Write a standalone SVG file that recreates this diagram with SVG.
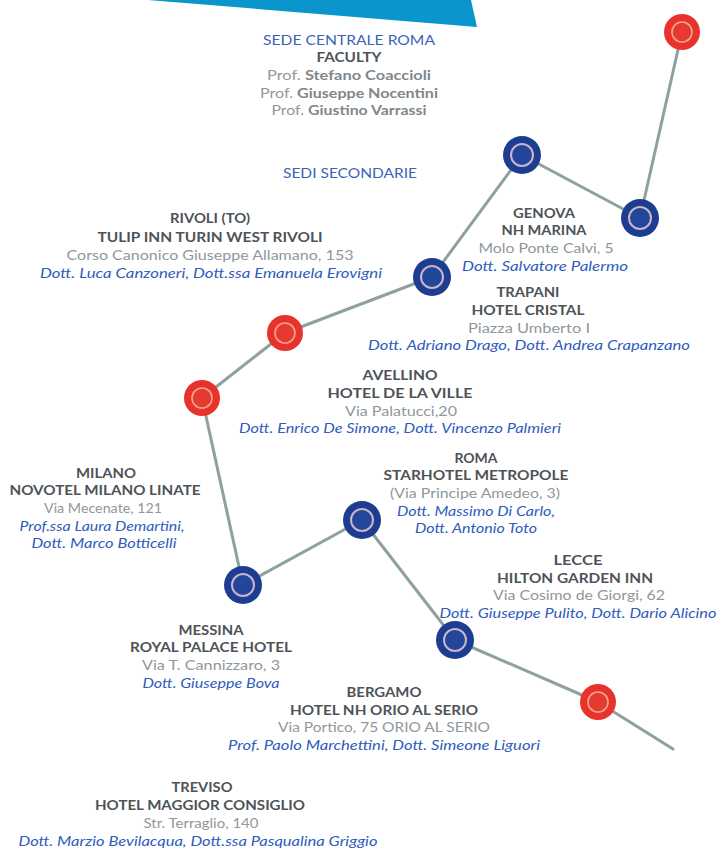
<svg xmlns="http://www.w3.org/2000/svg" width="718" height="850" viewBox="0 0 718 850">
<style>
text{font-family:"Lato","Open Sans","Liberation Sans",sans-serif;text-anchor:middle}
.h{font-weight:bold;font-size:13.5px;fill:#4d5358}
.a{font-size:14px;fill:#8f979b}
.n{font-size:14px;font-style:italic;fill:#2f5cbd}
.t{font-size:14px;fill:#3a63b8}
.p{font-size:14px;fill:#8f979b}
.pb{font-weight:bold;fill:#80878c}
.bo{fill:#1d3d90}
.bi{fill:#22469a;stroke:#c9b4cb;stroke-width:2}
.ro{fill:#e8332c}
.ri{fill:#e63a30;stroke:#f3a58e;stroke-width:1.6}
.link{fill:none;stroke:#8ea19f;stroke-width:3;stroke-linejoin:round;stroke-linecap:round}
</style>
<polygon points="148,0 471,0 477,27" fill="#0a96cc"/>
<g id="connectors">
<polyline class="link" points="682,32 640,218 522,155 432,277 285,333 202,398 243,585 362,520 455,640 598,702 673,749"/>
</g>
<g id="node-r1"><circle class="ro" cx="682" cy="32" r="18"/><circle class="ri" cx="682" cy="32" r="10"/></g>
<g id="node-b1"><circle class="bo" cx="640" cy="218" r="19"/><circle class="bi" cx="640" cy="218" r="11"/></g>
<g id="node-b2"><circle class="bo" cx="522" cy="155" r="19"/><circle class="bi" cx="522" cy="155" r="11"/></g>
<g id="node-b3"><circle class="bo" cx="432" cy="277" r="19"/><circle class="bi" cx="432" cy="277" r="11"/></g>
<g id="node-r2"><circle class="ro" cx="285" cy="333" r="18"/><circle class="ri" cx="285" cy="333" r="10"/></g>
<g id="node-r3"><circle class="ro" cx="202" cy="398" r="18"/><circle class="ri" cx="202" cy="398" r="10"/></g>
<g id="node-b4"><circle class="bo" cx="243" cy="585" r="19"/><circle class="bi" cx="243" cy="585" r="11"/></g>
<g id="node-b5"><circle class="bo" cx="362" cy="520" r="19"/><circle class="bi" cx="362" cy="520" r="11"/></g>
<g id="node-b6"><circle class="bo" cx="455" cy="640" r="19"/><circle class="bi" cx="455" cy="640" r="11"/></g>
<g id="node-r4"><circle class="ro" cx="598" cy="702" r="18"/><circle class="ri" cx="598" cy="702" r="10"/></g>

<g id="sede-centrale">
<text class="t" x="349" y="45" textLength="172" lengthAdjust="spacingAndGlyphs">SEDE CENTRALE ROMA</text>
<text class="h" x="349" y="62" textLength="65" lengthAdjust="spacingAndGlyphs">FACULTY</text>
<text class="p" x="349" y="80" textLength="164" lengthAdjust="spacingAndGlyphs">Prof. <tspan class="pb">Stefano Coaccioli</tspan></text>
<text class="p" x="349" y="98" textLength="178" lengthAdjust="spacingAndGlyphs">Prof. <tspan class="pb">Giuseppe Nocentini</tspan></text>
<text class="p" x="349" y="115" textLength="155" lengthAdjust="spacingAndGlyphs">Prof. <tspan class="pb">Giustino Varrassi</tspan></text>
</g>
<g id="sedi-secondarie">
<text class="t" x="350" y="178" textLength="134" lengthAdjust="spacingAndGlyphs">SEDI SECONDARIE</text>
</g>
<g id="rivoli">
<text class="h" x="210" y="223" textLength="80" lengthAdjust="spacingAndGlyphs">RIVOLI (TO)</text>
<text class="h" x="210" y="242" textLength="225" lengthAdjust="spacingAndGlyphs">TULIP INN TURIN WEST RIVOLI</text>
<text class="a" x="210" y="260" textLength="287" lengthAdjust="spacingAndGlyphs">Corso Canonico Giuseppe Allamano, 153</text>
<text class="n" x="211" y="278" textLength="342" lengthAdjust="spacingAndGlyphs">Dott. Luca Canzoneri, Dott.ssa Emanuela Erovigni</text>
</g>
<g id="genova">
<text class="h" x="544" y="218" textLength="62" lengthAdjust="spacingAndGlyphs">GENOVA</text>
<text class="h" x="544" y="235" textLength="85" lengthAdjust="spacingAndGlyphs">NH MARINA</text>
<text class="a" x="546" y="253" textLength="135" lengthAdjust="spacingAndGlyphs">Molo Ponte Calvi, 5</text>
<text class="n" x="545" y="271" textLength="166" lengthAdjust="spacingAndGlyphs">Dott. Salvatore Palermo</text>
</g>
<g id="trapani">
<text class="h" x="528" y="297" textLength="63" lengthAdjust="spacingAndGlyphs">TRAPANI</text>
<text class="h" x="528" y="315" textLength="113" lengthAdjust="spacingAndGlyphs">HOTEL CRISTAL</text>
<text class="a" x="529" y="333" textLength="122" lengthAdjust="spacingAndGlyphs">Piazza Umberto I</text>
<text class="n" x="529" y="350" textLength="322" lengthAdjust="spacingAndGlyphs">Dott. Adriano Drago, Dott. Andrea Crapanzano</text>
</g>
<g id="avellino">
<text class="h" x="400" y="380" textLength="75" lengthAdjust="spacingAndGlyphs">AVELLINO</text>
<text class="h" x="400" y="398" textLength="145" lengthAdjust="spacingAndGlyphs">HOTEL DE LA VILLE</text>
<text class="a" x="401" y="416" textLength="112" lengthAdjust="spacingAndGlyphs">Via Palatucci,20</text>
<text class="n" x="400" y="433" textLength="322" lengthAdjust="spacingAndGlyphs">Dott. Enrico De Simone, Dott. Vincenzo Palmieri</text>
</g>
<g id="milano">
<text class="h" x="106" y="478" textLength="60" lengthAdjust="spacingAndGlyphs">MILANO</text>
<text class="h" x="105" y="495" textLength="191" lengthAdjust="spacingAndGlyphs">NOVOTEL MILANO LINATE</text>
<text class="a" x="103" y="513" textLength="118" lengthAdjust="spacingAndGlyphs">Via Mecenate, 121</text>
<text class="n" x="102" y="531" textLength="165" lengthAdjust="spacingAndGlyphs">Prof.ssa Laura Demartini,</text>
<text class="n" x="104" y="548" textLength="145" lengthAdjust="spacingAndGlyphs">Dott. Marco Botticelli</text>
</g>
<g id="roma">
<text class="h" x="476" y="463" textLength="43" lengthAdjust="spacingAndGlyphs">ROMA</text>
<text class="h" x="476" y="480" textLength="185" lengthAdjust="spacingAndGlyphs">STARHOTEL METROPOLE</text>
<text class="a" x="475" y="498" textLength="170" lengthAdjust="spacingAndGlyphs">(Via Principe Amedeo, 3)</text>
<text class="n" x="476" y="516" textLength="158" lengthAdjust="spacingAndGlyphs">Dott. Massimo Di Carlo,</text>
<text class="n" x="476" y="533" textLength="122" lengthAdjust="spacingAndGlyphs">Dott. Antonio Toto</text>
</g>
<g id="lecce">
<text class="h" x="578" y="565" textLength="49" lengthAdjust="spacingAndGlyphs">LECCE</text>
<text class="h" x="575" y="583" textLength="156" lengthAdjust="spacingAndGlyphs">HILTON GARDEN INN</text>
<text class="a" x="579" y="600" textLength="172" lengthAdjust="spacingAndGlyphs">Via Cosimo de Giorgi, 62</text>
<text class="n" x="578" y="618" textLength="277" lengthAdjust="spacingAndGlyphs">Dott. Giuseppe Pulito, Dott. Dario Alicino</text>
</g>
<g id="messina">
<text class="h" x="211" y="635" textLength="65" lengthAdjust="spacingAndGlyphs">MESSINA</text>
<text class="h" x="211" y="652" textLength="162" lengthAdjust="spacingAndGlyphs">ROYAL PALACE HOTEL</text>
<text class="a" x="211" y="670" textLength="138" lengthAdjust="spacingAndGlyphs">Via T. Cannizzaro, 3</text>
<text class="n" x="211" y="688" textLength="137" lengthAdjust="spacingAndGlyphs">Dott. Giuseppe Bova</text>
</g>
<g id="bergamo">
<text class="h" x="384" y="697" textLength="75" lengthAdjust="spacingAndGlyphs">BERGAMO</text>
<text class="h" x="384" y="715" textLength="188" lengthAdjust="spacingAndGlyphs">HOTEL NH ORIO AL SERIO</text>
<text class="a" x="384" y="732" textLength="212" lengthAdjust="spacingAndGlyphs">Via Portico, 75 ORIO AL SERIO</text>
<text class="n" x="384" y="750" textLength="312" lengthAdjust="spacingAndGlyphs">Prof. Paolo Marchettini, Dott. Simeone Liguori</text>
</g>
<g id="treviso">
<text class="h" x="202" y="792" textLength="61" lengthAdjust="spacingAndGlyphs">TREVISO</text>
<text class="h" x="200" y="810" textLength="210" lengthAdjust="spacingAndGlyphs">HOTEL MAGGIOR CONSIGLIO</text>
<text class="a" x="201" y="828" textLength="115" lengthAdjust="spacingAndGlyphs">Str. Terraglio, 140</text>
<text class="n" x="198" y="846" textLength="359" lengthAdjust="spacingAndGlyphs">Dott. Marzio Bevilacqua, Dott.ssa Pasqualina Griggio</text>
</g>
</svg>
